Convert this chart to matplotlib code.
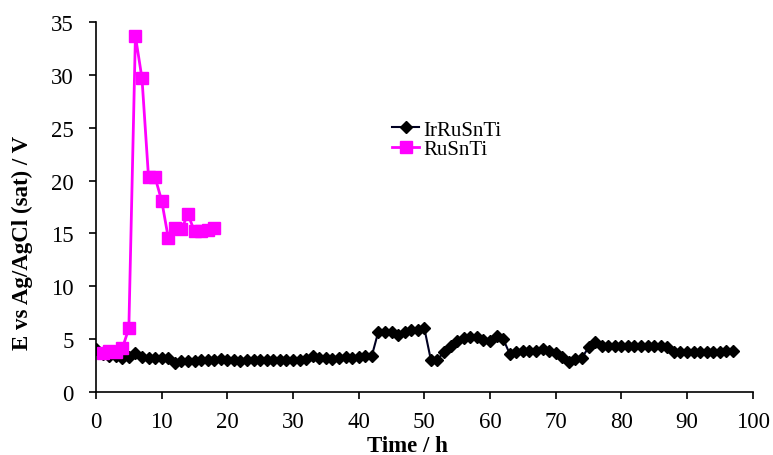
import numpy as np
import matplotlib
matplotlib.use("Agg")
import matplotlib.pyplot as plt

plt.rcParams['font.family'] = ['Liberation Serif', 'DejaVu Serif']

# IrRuSnTi, hourly readings 0..97 h
hours_ir = np.arange(0, 98)
e_ir = [4.0, 3.6, 3.4, 3.4, 3.2, 3.3, 3.7, 3.3, 3.2, 3.2,
        3.2, 3.2, 2.7, 2.9, 2.9, 2.9, 3.0, 3.0, 3.0, 3.1,
        3.0, 3.0, 2.9, 3.0, 3.0, 3.0, 3.0, 3.0, 3.0, 3.0,
        3.0, 3.0, 3.1, 3.4, 3.2, 3.2, 3.1, 3.2, 3.3, 3.2,
        3.3, 3.4, 3.4, 5.7, 5.7, 5.7, 5.4, 5.7, 5.8, 5.8,
        6.0, 3.0, 3.0, 3.8, 4.3, 4.8, 5.1, 5.2, 5.2, 4.9,
        4.8, 5.3, 5.0, 3.6, 3.8, 3.9, 3.9, 3.9, 4.0, 3.9,
        3.7, 3.3, 2.8, 3.1, 3.2, 4.2, 4.7, 4.3, 4.3, 4.3,
        4.3, 4.3, 4.3, 4.3, 4.3, 4.3, 4.3, 4.2, 3.8, 3.8,
        3.8, 3.8, 3.8, 3.8, 3.8, 3.8, 3.9, 3.9]

# RuSnTi, 1..18 h
hours_ru = np.arange(1, 19)
e_ru = [3.7, 3.9, 3.8, 4.1, 6.0, 33.7, 29.7, 20.3, 20.3, 18.1,
        14.6, 15.5, 15.4, 16.8, 15.2, 15.2, 15.3, 15.5]

fig = plt.figure(figsize=(7.73, 4.56), dpi=100)
ax = fig.add_axes([0.1242, 0.1388, 0.8495, 0.8101])

ax.plot(hours_ir, e_ir, color='#000022', lw=1.5, marker='D', ms=6,
        mfc='black', mec='black', label='IrRuSnTi')
ax.plot(hours_ru, e_ru, color='#ff00ff', lw=2, marker='s', ms=8.5,
        mfc='#ff00ff', mec='#ff00ff', label='RuSnTi')

ax.set_xlim(0, 100)
ax.set_ylim(0, 35)
ax.set_xticks(np.arange(0, 101, 10))
ax.set_yticks(np.arange(0, 36, 5))
for s in ['top', 'right']:
    ax.spines[s].set_visible(False)
for s in ['left', 'bottom']:
    ax.spines[s].set_linewidth(1.2)
ax.tick_params(axis='both', direction='out', length=5, width=1.2, labelsize=16.5)
ax.tick_params(axis='y', pad=11)
ax.tick_params(axis='x', pad=9)

fig.text(22 / 773, 1 - 243 / 456, 'E vs Ag/AgCl (sat) / V', rotation=90,
         ha='center', va='center', fontsize=16.5, fontweight='bold')
fig.text(407 / 773, 1 - 447 / 456, 'Time / h', ha='center', va='center',
         fontsize=16.5, fontweight='bold')

ax.legend(loc='upper left', bbox_to_anchor=(392 / 773, 1 - 121 / 456),
          bbox_transform=fig.transFigure, frameon=False, fontsize=15,
          handlelength=1.3, handletextpad=0.2, labelspacing=0.0,
          borderpad=0, borderaxespad=0)

fig.savefig('out.png', dpi=100)
